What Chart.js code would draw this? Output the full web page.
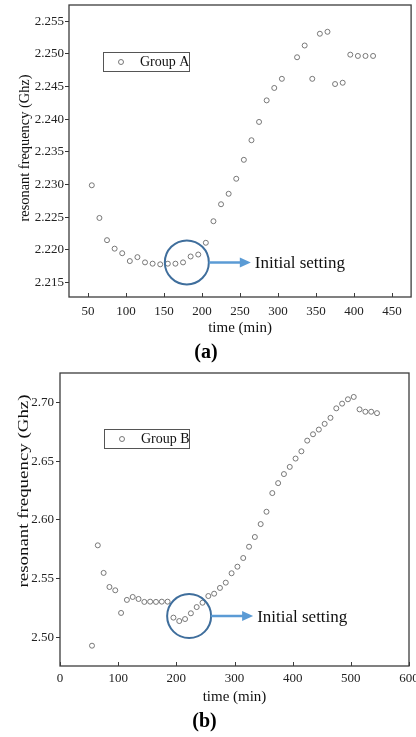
<!DOCTYPE html>
<html>
<head>
<meta charset="utf-8">
<script src="https://cdn.jsdelivr.net/npm/chart.js@4.4.1/dist/chart.umd.min.js"></script>
<style>
    html, body { margin: 0; padding: 0; background: #fff; }
    body { width: 416px; height: 737px; position: relative; overflow: hidden; }
    canvas { position: absolute; left: 0; }
    #chartA { top: 0; }
    #chartB { top: 365px; }
</style>
</head>
<body>
<canvas id="chartA" width="416" height="365"></canvas>
<canvas id="chartB" width="416" height="372"></canvas>
<script>
// ===== DATA =====
const timeA = [55, 65, 75, 85, 95, 105, 115, 125, 135, 145, 155, 165, 175, 185, 195,
    205, 215, 225, 235, 245, 255, 265, 275, 285, 295, 305, 325, 335, 345, 355, 365,
    375, 385, 395, 405, 415, 425];
const freqA = [2.2299, 2.2249, 2.2215, 2.2202, 2.2195, 2.2183, 2.2189, 2.2181, 2.2179,
    2.2178, 2.2179, 2.2179, 2.2181, 2.2190, 2.2193, 2.2211, 2.2244, 2.2270, 2.2286,
    2.2309, 2.2338, 2.2368, 2.2396, 2.2429, 2.2448, 2.2462, 2.2495, 2.2513, 2.2462,
    2.2531, 2.2534, 2.2454, 2.2456, 2.2499, 2.2497, 2.2497, 2.2497];

const timeB = [55, 65, 75, 85, 95, 105, 115, 125, 135, 145, 155, 165, 175, 185, 195,
    205, 215, 225, 235, 245, 255, 265, 275, 285, 295, 305, 315, 325, 335, 345, 355,
    365, 375, 385, 395, 405, 415, 425, 435, 445, 455, 465, 475, 485, 495, 505, 515,
    525, 535, 545];
const freqB = [2.4929, 2.5784, 2.5549, 2.5429, 2.5401, 2.5208, 2.5319, 2.5344, 2.5327,
    2.5302, 2.5304, 2.5302, 2.5304, 2.5304, 2.5168, 2.5139, 2.5156, 2.5205, 2.5258,
    2.5295, 2.5352, 2.5372, 2.5421, 2.5466, 2.5546, 2.5602, 2.5676, 2.5772, 2.5855,
    2.5965, 2.6070, 2.6229, 2.6314, 2.6391, 2.6452, 2.6523, 2.6585, 2.6676, 2.6730,
    2.6770, 2.6819, 2.6870, 2.6951, 2.6991, 2.7028, 2.7048, 2.6942, 2.6922, 2.6922,
    2.6910];

const xTicksA = [50, 100, 150, 200, 250, 300, 350, 400, 450];
const yTicksA = [2.215, 2.220, 2.225, 2.230, 2.235, 2.240, 2.245, 2.250, 2.255];
const xTicksB = [0, 100, 200, 300, 400, 500, 600];
const yTicksB = [2.50, 2.55, 2.60, 2.65, 2.70];

const SERIF = "'Liberation Serif', 'Times New Roman', serif";

// ===== FRAME, LEGEND, Y TITLE, ANNOTATION =====
const decorPlugin = {
    id: "decor",
    afterDraw(chart, args, opts) {
        const { ctx, chartArea: a } = chart;
        const xs = chart.scales.x;
        const ys = chart.scales.y;
        ctx.save();

        // box around plot
        ctx.strokeStyle = "#3c3c3c";
        ctx.lineWidth = 1.3;
        ctx.strokeRect(a.left, a.top, a.right - a.left, a.bottom - a.top);

        // inward ticks on bottom axis
        ctx.lineWidth = 1;
        ctx.beginPath();
        xs.ticks.forEach((t) => {
            const px = Math.round(xs.getPixelForValue(t.value)) + 0.5;
            ctx.moveTo(px, a.bottom);
            ctx.lineTo(px, a.bottom - 4);
        });
        ctx.stroke();

        // y axis title (rotated, stretched to target length)
        const yt = opts.yTitle;
        ctx.save();
        ctx.font = "14px " + SERIF;
        ctx.fillStyle = "#111";
        ctx.textAlign = "center";
        ctx.textBaseline = "middle";
        ctx.translate(yt.x, yt.y);
        ctx.rotate(-Math.PI / 2);
        const tw = ctx.measureText(yt.text).width;
        ctx.scale(yt.length / tw, 1);
        ctx.fillText(yt.text, 0, 0);
        ctx.restore();

        // legend box
        const lg = opts.legend;
        const ds = chart.data.datasets[0];
        const lx = a.left + lg.dx;
        const ly = a.top + lg.dy;
        ctx.strokeStyle = "#555";
        ctx.lineWidth = 1;
        ctx.strokeRect(lx + 0.5, ly + 0.5, lg.w, lg.h);
        ctx.beginPath();
        ctx.arc(lx + 18, ly + lg.h / 2 + 0.5, ds.pointRadius, 0, Math.PI * 2);
        ctx.strokeStyle = ds.borderColor;
        ctx.lineWidth = ds.borderWidth;
        ctx.stroke();
        ctx.font = "14px " + SERIF;
        ctx.fillStyle = "#111";
        ctx.textAlign = "left";
        ctx.textBaseline = "middle";
        ctx.fillText(ds.label, lx + 37, ly + lg.h / 2 + 1);

        // "Initial setting" circle + arrow
        const mk = opts.mark;
        const cx = xs.getPixelForValue(mk.x);
        const cy = ys.getPixelForValue(mk.y);
        ctx.beginPath();
        ctx.arc(cx, cy, mk.r, 0, Math.PI * 2);
        ctx.strokeStyle = "#3f6e9c";
        ctx.lineWidth = 2;
        ctx.stroke();

        const x0 = cx + mk.r;
        const x1 = x0 + 42;
        ctx.strokeStyle = "#5b9bd5";
        ctx.fillStyle = "#5b9bd5";
        ctx.lineWidth = 2.5;
        ctx.beginPath();
        ctx.moveTo(x0, cy);
        ctx.lineTo(x1 - 8, cy);
        ctx.stroke();
        ctx.beginPath();
        ctx.moveTo(x1, cy);
        ctx.lineTo(x1 - 11, cy - 5);
        ctx.lineTo(x1 - 11, cy + 5);
        ctx.closePath();
        ctx.fill();

        ctx.font = "17px " + SERIF;
        ctx.fillStyle = "#111";
        ctx.textAlign = "left";
        ctx.textBaseline = "alphabetic";
        ctx.fillText(mk.text, x1 + 4, cy + 6);

        ctx.restore();
    },
};

// ===== CHART FACTORY =====
function makeChart(id, cfg) {
    const ctx = document.getElementById(id).getContext("2d");
    return new Chart(ctx, {
        type: "scatter",
        data: {
            datasets: [
                {
                    label: cfg.label,
                    data: cfg.xs.map((x, i) => ({ x: x, y: cfg.ys[i] })),
                    borderColor: "#6a6a6a",
                    backgroundColor: "rgba(0,0,0,0)",
                    borderWidth: 0.9,
                    pointRadius: 2.5,
                    showLine: false,
                },
            ],
        },
        options: {
            responsive: false,
            animation: false,
            events: [],
            layout: { padding: cfg.padding },
            plugins: {
                legend: { display: false },
                tooltip: { enabled: false },
                title: {
                    display: true,
                    position: "bottom",
                    text: cfg.caption,
                    color: "#000",
                    font: { family: SERIF, size: 20, weight: "bold", lineHeight: 1.2 },
                    padding: 0,
                },
                decor: cfg.decor,
            },
            scales: {
                x: {
                    type: "linear",
                    min: cfg.xMin,
                    max: cfg.xMax,
                    afterBuildTicks: (s) => {
                        s.ticks = cfg.xTicks.map((v) => ({ value: v }));
                    },
                    afterFit: (s) => {
                        s.height = 44;
                        s.paddingLeft = 0;
                        s.paddingRight = 0;
                    },
                    grid: { display: false, drawTicks: false },
                    border: { display: false },
                    ticks: {
                        padding: cfg.xTickPad,
                        color: "#222",
                        maxRotation: 0,
                        autoSkip: false,
                        font: { family: SERIF, size: 13 },
                        callback: (v) => String(v),
                    },
                    title: {
                        display: true,
                        text: "time (min)",
                        color: "#111",
                        font: { family: SERIF, size: 15, lineHeight: 1.2 },
                        padding: { top: 0, bottom: 4 },
                    },
                },
                y: {
                    type: "linear",
                    min: cfg.yMin,
                    max: cfg.yMax,
                    afterBuildTicks: (s) => {
                        s.ticks = cfg.yTicks.map((v) => ({ value: v }));
                    },
                    afterFit: (s) => {
                        s.width = cfg.yWidth;
                        s.paddingTop = 0;
                        s.paddingBottom = 0;
                    },
                    grid: {
                        display: true,
                        drawOnChartArea: false,
                        drawTicks: true,
                        tickLength: 4,
                        color: "#333",
                        lineWidth: 1,
                    },
                    border: { display: false },
                    ticks: {
                        padding: cfg.yTickPad,
                        color: "#222",
                        font: { family: SERIF, size: 13 },
                        callback: (v) => v.toFixed(cfg.yDigits),
                    },
                },
            },
        },
        plugins: [decorPlugin],
    });
}

// ===== INIT =====
makeChart("chartA", {
    label: "Group A",
    caption: "(a)",
    xs: timeA,
    ys: freqA,
    xMin: 25,
    xMax: 475,
    yMin: 2.2128,
    yMax: 2.2575,
    xTicks: xTicksA,
    yTicks: yTicksA,
    yDigits: 3,
    yWidth: 69,
    xTickPad: 7,
    yTickPad: 1,
    padding: { top: 5, right: 4, left: 0, bottom: 0 },
    decor: {
        yTitle: { text: "resonant frequency (Ghz)", x: 25, y: 148, length: 147 },
        legend: { dx: 34, dy: 47, w: 86, h: 19 },
        mark: { x: 180, y: 2.2181, r: 22, text: "Initial setting" },
    },
});

makeChart("chartB", {
    label: "Group B",
    caption: "(b)",
    xs: timeB,
    ys: freqB,
    xMin: 0,
    xMax: 600,
    yMin: 2.4756,
    yMax: 2.7252,
    xTicks: xTicksB,
    yTicks: yTicksB,
    yDigits: 2,
    yWidth: 60,
    xTickPad: 5,
    yTickPad: 2,
    padding: { top: 8, right: 7, left: 0, bottom: 3 },
    decor: {
        yTitle: { text: "resonant frequency (Ghz)", x: 24, y: 126, length: 193 },
        legend: { dx: 44, dy: 56, w: 85, h: 19 },
        mark: { x: 222, y: 2.5181, r: 22, text: "Initial setting" },
    },
});
</script>
</body>
</html>
